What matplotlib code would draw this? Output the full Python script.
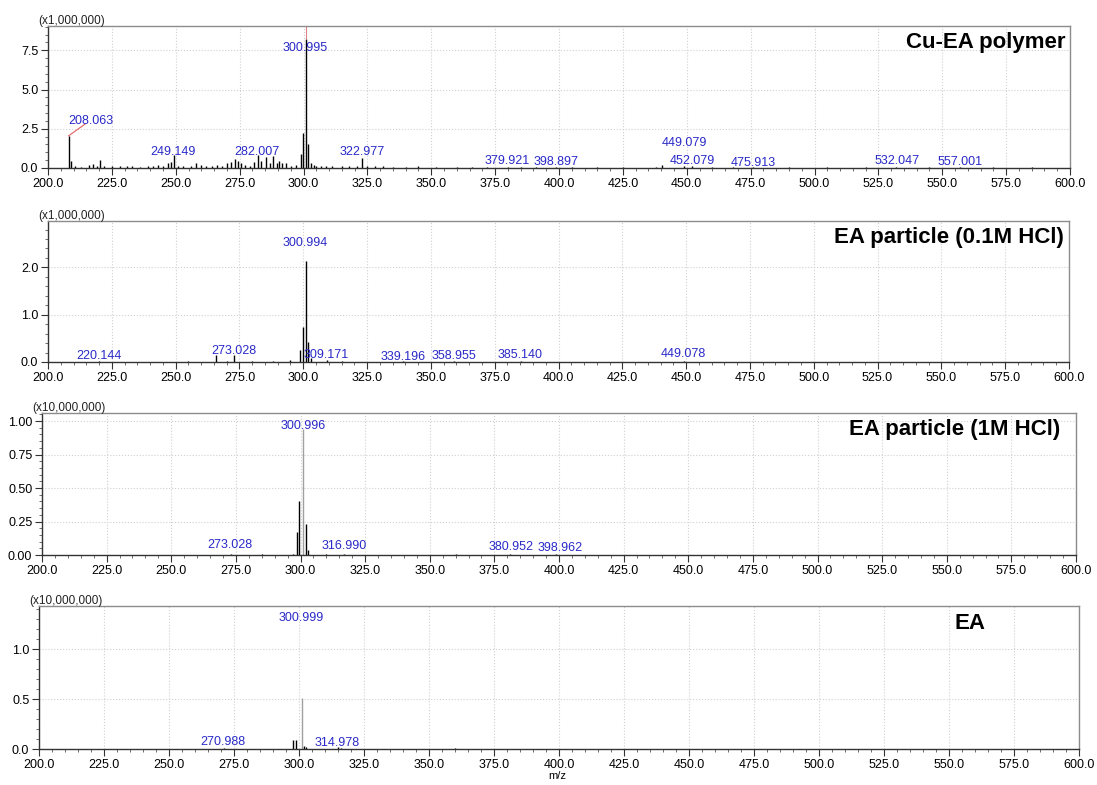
import matplotlib.pyplot as plt
from matplotlib.ticker import MultipleLocator, FormatStrFormatter

plt.rcParams['font.family'] = ['Liberation Sans', 'DejaVu Sans']

# --- Cu-EA polymer (intensity x1,000,000) ---
cu_mz = [208.063, 209.1, 210.5, 213.0, 216.0, 217.5, 219.0, 220.5, 222.0, 225.0,
         228.0, 231.0, 233.0, 236.0, 239.0, 241.0, 243.0, 245.0, 247.0, 248.2,
         249.149, 251.0, 253.0, 256.0, 258.0, 260.0, 262.0, 264.0, 266.0, 268.0,
         270.0, 271.5, 273.0, 274.2, 275.5, 277.0, 279.0, 280.5, 282.007, 283.2,
         285.2, 287.0, 288.2, 289.5, 290.5, 291.5, 293.0, 295.0, 297.0, 298.9,
         299.9, 300.995, 301.9, 302.8, 304.0, 305.0, 307.0, 309.0, 311.0, 315.0,
         318.0, 321.0, 322.977, 325.0, 328.0, 331.0, 335.0, 340.0, 345.0, 352.0,
         360.0, 366.0, 372.0, 379.921, 385.0, 391.0, 398.897, 405.0, 415.0, 425.0,
         438.0, 440.5, 449.079, 452.079, 460.0, 468.0, 475.913, 490.0, 505.0, 520.0,
         532.047, 545.0, 557.001, 570.0, 585.0, 595.0]
cu_int = [2.05, 0.45, 0.10, 0.08, 0.20, 0.25, 0.15, 0.50, 0.10, 0.12,
          0.10, 0.15, 0.10, 0.08, 0.10, 0.10, 0.20, 0.15, 0.35, 0.40,
          0.85, 0.15, 0.10, 0.15, 0.30, 0.20, 0.10, 0.15, 0.20, 0.15,
          0.30, 0.40, 0.55, 0.45, 0.30, 0.20, 0.15, 0.40, 0.85, 0.45,
          0.70, 0.30, 0.75, 0.35, 0.45, 0.30, 0.35, 0.15, 0.20, 0.90,
          2.20, 8.20, 1.55, 0.30, 0.20, 0.15, 0.10, 0.15, 0.10, 0.10,
          0.10, 0.15, 0.65, 0.12, 0.10, 0.10, 0.08, 0.08, 0.10, 0.05,
          0.06, 0.05, 0.06, 0.08, 0.05, 0.05, 0.07, 0.04, 0.05, 0.04,
          0.05, 0.20, 0.15, 0.12, 0.05, 0.05, 0.08, 0.04, 0.04, 0.05,
          0.07, 0.04, 0.06, 0.04, 0.04, 0.03]
cu_labels = ['208.063', '249.149', '282.007', '300.995', '322.977', '379.921',
             '398.897', '449.079', '452.079', '475.913', '532.047', '557.001']
cu_label_x = [216.8, 248.9, 281.7, 300.8, 322.8, 379.6, 398.8, 448.9, 452.1, 475.9, 532.3, 556.9]
cu_label_y = [3.0, 1.02, 1.02, 7.66, 1.0, 0.45, 0.38, 1.6, 0.45, 0.33, 0.45, 0.38]

# --- EA particle (0.1M HCl) (intensity x1,000,000) ---
p01_mz = [212.0, 220.144, 228.0, 240.0, 255.0, 266.0, 270.0, 273.028, 280.0, 288.0,
          295.0, 298.9, 299.9, 300.994, 301.9, 303.0, 309.171, 315.0, 325.0, 339.196,
          358.955, 370.0, 385.140, 410.0, 430.0, 449.078, 470.0, 520.0, 560.0]
p01_int = [0.01, 0.03, 0.01, 0.01, 0.02, 0.15, 0.03, 0.15, 0.02, 0.03,
           0.04, 0.25, 0.73, 2.13, 0.43, 0.08, 0.05, 0.02, 0.01, 0.02,
           0.02, 0.01, 0.02, 0.01, 0.01, 0.03, 0.01, 0.01, 0.01]
p01_labels = ['220.144', '273.028', '300.994', '309.171', '339.196', '358.955', '385.140', '449.078']
p01_label_x = [220.0, 272.9, 300.6, 308.8, 339.0, 358.9, 385.1, 449.0]
p01_label_y = [0.13, 0.23, 2.51, 0.15, 0.11, 0.13, 0.15, 0.17]

# --- EA particle (1M HCl) (intensity x10,000,000) ---
p1_mz = [240.0, 260.0, 273.028, 285.0, 297.0, 298.5, 299.5, 300.996, 302.0, 303.0,
         310.0, 316.990, 340.0, 360.0, 380.952, 398.962, 450.0, 500.0]
p1_int = [0.003, 0.003, 0.008, 0.004, 0.01, 0.17, 0.40, 0.94, 0.23, 0.04,
          0.006, 0.01, 0.003, 0.004, 0.004, 0.004, 0.003, 0.003]
p1_labels = ['273.028', '300.996', '316.990', '380.952', '398.962']
p1_label_x = [272.8, 301.0, 317.0, 381.6, 400.6]
p1_label_y = [0.075, 0.96, 0.07, 0.06, 0.055]

# --- EA (intensity x10,000,000) ---
ea_mz = [245.0, 260.0, 270.988, 285.0, 297.8, 299.0, 300.999, 301.8, 302.6, 314.978,
         316.0, 360.0, 380.0]
ea_int = [0.005, 0.005, 0.01, 0.005, 0.09, 0.09, 0.51, 0.03, 0.02, 0.02,
          0.01, 0.01, 0.005]
ea_labels = ['270.988', '300.999', '314.978']
ea_label_x = [270.8, 301.0, 314.6]
ea_label_y = [0.07, 1.31, 0.06]

W, H = 1097, 785
fig = plt.figure(figsize=(W / 100, H / 100), dpi=100)

panels = [
    # rect in px (left, right, top, bottom), data, y range, tick steps, scale text, title
    dict(px=(48, 1070, 26, 168), mz=cu_mz, it=cu_int, lab=cu_labels, lx=cu_label_x, ly=cu_label_y,
         ytop=9.05, major=2.5, minor=0.5, scale='(x1,000,000)', title='Cu-EA polymer',
         tpos=(0.996, 0.887), tha='right', main_color='black'),
    dict(px=(48, 1069, 221, 362), mz=p01_mz, it=p01_int, lab=p01_labels, lx=p01_label_x, ly=p01_label_y,
         ytop=2.98, major=1.0, minor=0.2, scale='(x1,000,000)', title='EA particle (0.1M HCl)',
         tpos=(0.995, 0.88), tha='right', main_color='black'),
    dict(px=(42, 1076, 413, 555), mz=p1_mz, it=p1_int, lab=p1_labels, lx=p1_label_x, ly=p1_label_y,
         ytop=1.06, major=0.25, minor=0.05, scale='(x10,000,000)', title='EA particle (1M HCl)',
         tpos=(0.985, 0.885), tha='right', main_color='#a0a0a0'),
    dict(px=(39, 1079, 606, 749), mz=ea_mz, it=ea_int, lab=ea_labels, lx=ea_label_x, ly=ea_label_y,
         ytop=1.43, major=0.5, minor=0.1, scale='(x10,000,000)', title='EA',
         tpos=(0.895, 0.88), tha='center', main_color='#a0a0a0'),
]

label_color = '#2a2ac8'

for i, p in enumerate(panels):
    l, r, t, b = p['px']
    ax = fig.add_axes([l / W, 1 - b / H, (r - l) / W, (b - t) / H])

    top = max(p['it'])
    for mz, h in zip(p['mz'], p['it']):
        c = p['main_color'] if h == top else 'black'
        ax.vlines(mz, 0, h, color=c, linewidth=1.0)

    for txt, x, y in zip(p['lab'], p['lx'], p['ly']):
        ax.text(x, y, txt, color=label_color, fontsize=9, ha='center', va='center')

    ax.set_xlim(200, 600)
    ax.set_ylim(0, p['ytop'])
    ax.xaxis.set_major_locator(MultipleLocator(25))
    ax.xaxis.set_minor_locator(MultipleLocator(5))
    ax.yaxis.set_major_locator(MultipleLocator(p['major']))
    ax.yaxis.set_minor_locator(MultipleLocator(p['minor']))
    ax.xaxis.set_major_formatter(FormatStrFormatter('%.1f'))
    ax.yaxis.set_major_formatter(FormatStrFormatter('%.2f' if p['major'] == 0.25 else '%.1f'))
    ax.tick_params(which='major', direction='out', length=5, width=0.8, color='#333333',
                   labelsize=9, pad=2)
    ax.tick_params(which='minor', direction='out', length=2.5, width=0.6, color='#555555')
    ax.grid(which='major', color='#d0d0d0', linestyle=':', linewidth=0.8)
    ax.set_axisbelow(True)
    for s in ax.spines.values():
        s.set_color('#8c8c8c')
        s.set_linewidth(1.0)
    ax.spines['bottom'].set_color('#333333')
    ax.spines['left'].set_color('#333333')

    fig.text((l - 10) / W, 1 - (t - 5) / H, p['scale'], fontsize=8.5, color='#222222',
             ha='left', va='center')

    ax.text(p['tpos'][0], p['tpos'][1], p['title'], transform=ax.transAxes,
            ha=p['tha'], va='center', fontsize=16, fontweight='bold')

    if i == 0:
        # leader line for the 208.063 label and marker line at the base peak
        ax.plot([208.063, 214.5], [2.05, 2.8], color='#e06060', linewidth=0.8)
        ax.vlines(300.995, 8.2, p['ytop'], color='#e08080', linewidth=0.8)

fig.text(557 / W, 1 - 776 / H, 'm/z', fontsize=8, ha='center', va='center')

fig.savefig('out.png', dpi=100)
